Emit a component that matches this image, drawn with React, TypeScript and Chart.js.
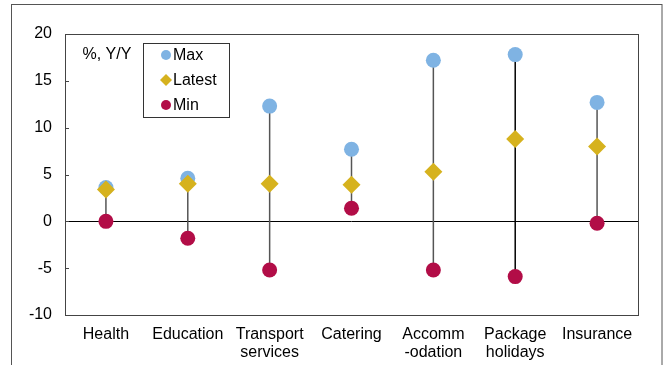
import React, { useEffect, useRef } from "react";
import { Chart, registerables } from "chart.js";

Chart.register(...registerables);

const categories: (string | string[])[] = [
  "Health",
  "Education",
  ["Transport", "services"],
  "Catering",
  ["Accomm", "-odation"],
  ["Package", "holidays"],
  "Insurance",
];
const maxValues = [3.6, 4.6, 12.3, 7.7, 17.2, 17.8, 12.7];
const latestValues = [3.4, 4.0, 4.0, 3.9, 5.3, 8.8, 8.0];
const minValues = [0.0, -1.8, -5.2, 1.4, -5.2, -5.9, -0.2];
const yTicks = [-10, -5, 0, 5, 10, 15, 20];
const seriesNames = ["Max", "Latest", "Min"];
const unitLabel = "%, Y/Y";

const COL_MAX = "#7fb3e3";
const COL_LATEST = "#d6b21e";
const COL_MIN = "#b20d47";
const FONT = "Liberation Sans, Arial, sans-serif";

export default function App() {
  const ref = useRef<HTMLCanvasElement | null>(null);

  useEffect(() => {
    if (!ref.current) return;

    const framePlugin = {
      id: "framePlugin",
      beforeDraw(chart: any) {
        const ctx = chart.ctx;
        ctx.save();
        ctx.fillStyle = "#fff";
        ctx.fillRect(0, 0, chart.width, chart.height);
        ctx.strokeStyle = "#555";
        ctx.lineWidth = 1;
        ctx.strokeRect(11.5, 4.5, 650.5, 400);
        ctx.restore();
      },
      afterDraw(chart: any) {
        const ctx = chart.ctx;
        const a = chart.chartArea;
        const y = chart.scales.y;
        ctx.save();
        ctx.strokeStyle = "#444";
        ctx.lineWidth = 1;
        yTicks.forEach((v) => {
          const py = Math.round(y.getPixelForValue(v)) + 0.5;
          ctx.beginPath();
          ctx.moveTo(a.left, py);
          ctx.lineTo(a.left + 4, py);
          ctx.stroke();
        });
        ctx.fillStyle = "#000";
        ctx.font = `16px ${FONT}`;
        ctx.textBaseline = "middle";
        ctx.textAlign = "left";
        ctx.fillText(unitLabel, 82.5, 55);
        const bx = 143.5, by = 43.5, bw = 86, bh = 74;
        ctx.fillStyle = "#fff";
        ctx.fillRect(bx, by, bw, bh);
        ctx.strokeStyle = "#333";
        ctx.strokeRect(bx, by, bw, bh);
        const cols = [COL_MAX, COL_LATEST, COL_MIN];
        const rows = [55, 80, 105];
        seriesNames.forEach((name, i) => {
          const cx = 166, cy = rows[i];
          ctx.fillStyle = cols[i];
          ctx.beginPath();
          if (i === 1) {
            const r = 6;
            ctx.moveTo(cx, cy - r);
            ctx.lineTo(cx + r, cy);
            ctx.lineTo(cx, cy + r);
            ctx.lineTo(cx - r, cy);
            ctx.closePath();
          } else {
            ctx.arc(cx, cy, 5, 0, Math.PI * 2);
          }
          ctx.fill();
          ctx.fillStyle = "#000";
          ctx.fillText(name, 173, cy + 1);
        });
        ctx.restore();
      },
    };

    const borderPlugin = {
      id: "borderPlugin",
      beforeDatasetsDraw(chart: any) {
        const ctx = chart.ctx;
        const a = chart.chartArea;
        ctx.save();
        ctx.strokeStyle = "#444";
        ctx.lineWidth = 1;
        ctx.strokeRect(
          Math.round(a.left) + 0.5,
          Math.round(a.top) + 0.5,
          Math.round(a.right - a.left),
          Math.round(a.bottom - a.top)
        );
        ctx.restore();
      },
    };

    const rangeData = minValues.map((m, i) => [m, maxValues[i]]);
    const lineColors = categories.map((_, i) => (i === 5 ? "#000" : "#555"));

    const chart = new Chart(ref.current, {
      type: "bar",
      data: {
        labels: categories as any,
        datasets: [
          {
            type: "bar",
            label: "range",
            data: rangeData as any,
            backgroundColor: lineColors,
            barThickness: 1.5,
            inflateAmount: 0,
            borderWidth: 0,
            order: 10,
          } as any,
          {
            type: "line",
            label: seriesNames[0],
            data: maxValues,
            showLine: false,
            pointStyle: "circle",
            pointRadius: 7.5,
            pointBorderWidth: 0,
            pointBackgroundColor: COL_MAX,
            borderColor: COL_MAX,
            order: 3,
          },
          {
            type: "line",
            label: seriesNames[2],
            data: minValues,
            showLine: false,
            pointStyle: "circle",
            pointRadius: 7.5,
            pointBorderWidth: 0,
            pointBackgroundColor: COL_MIN,
            borderColor: COL_MIN,
            order: 2,
          },
          {
            type: "line",
            label: seriesNames[1],
            data: latestValues,
            showLine: false,
            pointStyle: "rectRot",
            pointRadius: 9,
            pointBorderWidth: 0,
            pointBackgroundColor: COL_LATEST,
            borderColor: COL_LATEST,
            order: 1,
          },
        ],
      },
      options: {
        responsive: false,
        animation: false,
        layout: { padding: { left: 0, right: 29, top: 34, bottom: 0 } },
        plugins: {
          legend: { display: false },
          tooltip: { enabled: false },
        },
        scales: {
          x: {
            grid: { display: false, drawTicks: false },
            border: { display: false },
            ticks: {
              color: "#000",
              font: { family: FONT, size: 16, lineHeight: 1.15 },
              padding: 10,
              maxRotation: 0,
              autoSkip: false,
            },
            afterFit(scale: any) {
              scale.height = 50;
            },
          },
          y: {
            min: -10,
            max: 20,
            afterBuildTicks(scale: any) {
              scale.ticks = yTicks.map((v) => ({ value: v }));
            },
            grid: {
              drawTicks: false,
              color: (c: any) => (c.tick && c.tick.value === 0 ? "#000" : "rgba(0,0,0,0)"),
              lineWidth: 1,
            },
            border: { display: false },
            ticks: {
              color: "#000",
              font: { family: FONT, size: 16 },
              padding: 13,
            },
            afterFit(scale: any) {
              scale.width = 65;
            },
          },
        },
      },
      plugins: [framePlugin, borderPlugin],
    });

    return () => chart.destroy();
  }, []);

  return (
    <div style={{ position: "absolute", left: 0, top: 0, width: 667, height: 365 }}>
      <canvas ref={ref} width={667} height={365} style={{ display: "block" }} />
    </div>
  );
}
